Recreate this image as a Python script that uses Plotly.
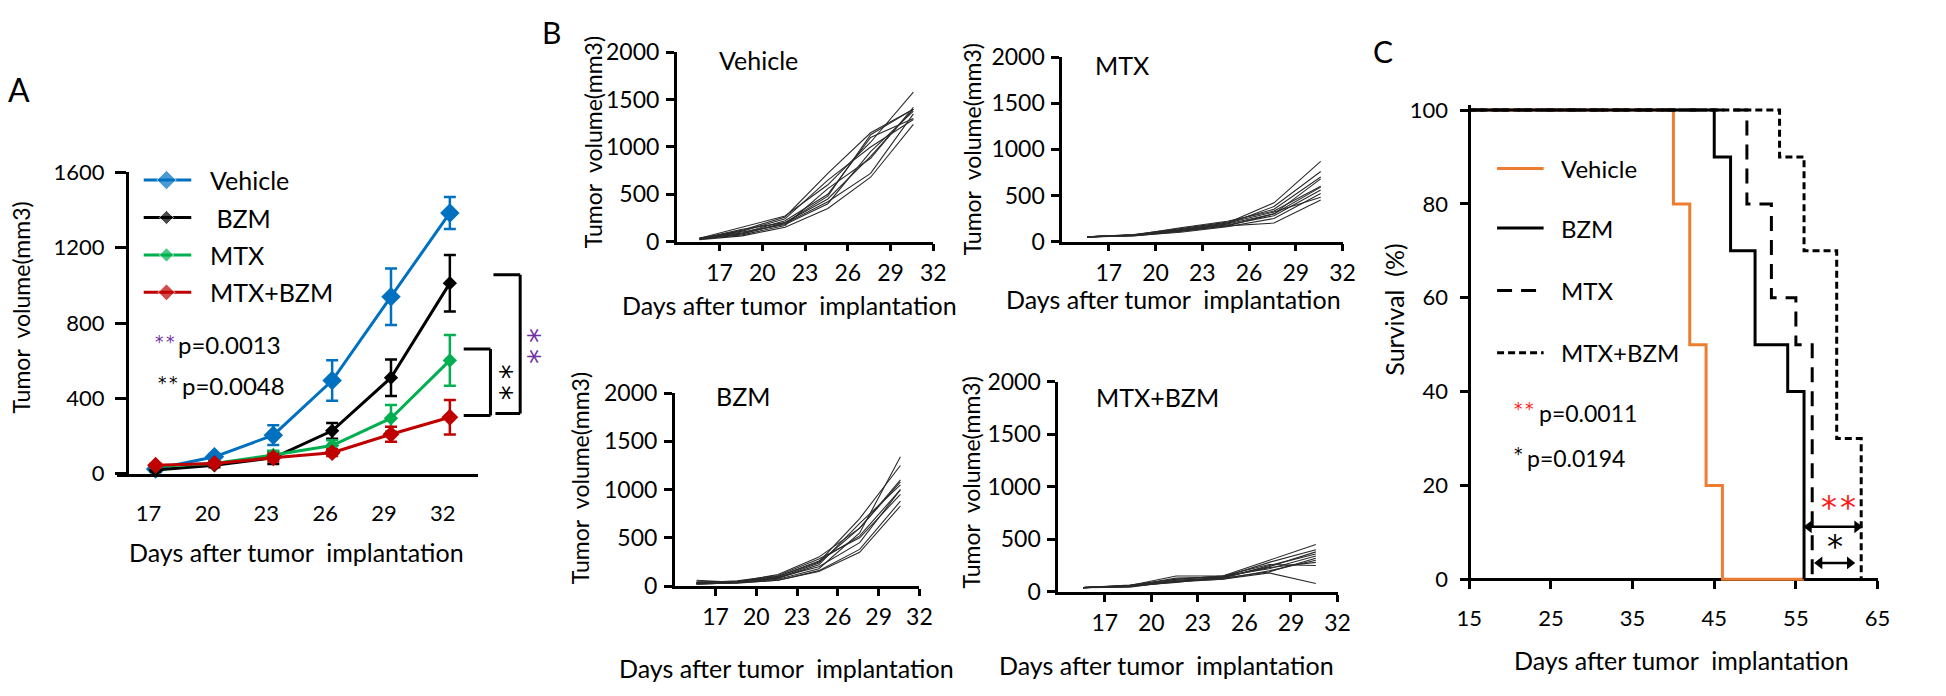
import plotly.graph_objects as go

W, H = 1946, 696
FONT = "Lato, 'Open Sans', sans-serif"
STARFONT = "DejaVu Sans"


def fx(p):
    return p / W


def fy(p):
    return 1 - p / H


# ---------------- Panel A data ----------------
days_a = [17, 20, 23, 26, 29, 32]
veh_mean = [25, 90, 205, 495, 940, 1385]
veh_err = [10, 15, 52, 108, 150, 85]
bzm_mean = [20, 45, 85, 228, 510, 1012]
bzm_err = [8, 10, 33, 42, 97, 150]
mtx_mean = [40, 55, 100, 150, 295, 602]
mtx_err = [8, 10, 22, 28, 70, 135]
combo_mean = [45, 55, 85, 112, 210, 300]
combo_err = [8, 10, 20, 18, 40, 92]
a_ticks = [0, 400, 800, 1200, 1600]

# ---------------- Panel B data (individual mice) ----------------
days_b = [15.6, 18.6, 21.6, 24.6, 27.6, 30.6]
b_ticks_x = [17, 20, 23, 26, 29, 32]
b_ticks_y = [0, 500, 1000, 1500, 2000]
vehicle_mice = [
    [30, 80, 200, 450, 900, 1400],
    [25, 120, 260, 720, 1150, 1400],
    [35, 150, 270, 600, 1050, 1580],
    [20, 60, 150, 350, 680, 1240],
    [40, 90, 220, 500, 1100, 1300],
    [30, 100, 180, 400, 950, 1380],
    [25, 70, 170, 560, 880, 1420],
    [35, 110, 240, 650, 1000, 1290],
    [30, 130, 200, 480, 1130, 1400],
    [28, 85, 190, 420, 720, 1350],
]
mtx_mice = [
    [50, 70, 130, 200, 420, 870],
    [50, 65, 120, 190, 380, 760],
    [50, 75, 140, 210, 350, 700],
    [50, 60, 110, 170, 300, 680],
    [50, 70, 150, 220, 330, 600],
    [50, 68, 120, 180, 280, 560],
    [50, 62, 100, 160, 250, 520],
    [50, 72, 130, 200, 320, 480],
    [50, 66, 115, 170, 200, 450],
    [50, 70, 125, 190, 300, 590],
]
bzm_mice = [
    [60, 40, 70, 180, 550, 1340],
    [20, 35, 100, 250, 700, 1250],
    [30, 45, 120, 300, 600, 1080],
    [40, 50, 90, 200, 450, 1000],
    [25, 30, 60, 150, 350, 830],
    [35, 55, 110, 280, 500, 950],
    [30, 40, 80, 220, 650, 1050],
    [20, 35, 60, 160, 380, 880],
    [45, 50, 100, 260, 520, 1000],
    [30, 45, 85, 240, 600, 1100],
]
combo_mice = [
    [40, 60, 150, 150, 300, 450],
    [40, 55, 130, 140, 280, 400],
    [40, 50, 110, 130, 250, 360],
    [40, 65, 120, 150, 220, 340],
    [40, 50, 100, 120, 200, 300],
    [40, 55, 90, 140, 230, 280],
    [40, 60, 120, 150, 260, 250],
    [40, 45, 100, 130, 190, 320],
    [40, 50, 95, 120, 180, 80],
    [40, 58, 110, 135, 240, 380],
]

# ---------------- Panel C data (Kaplan-Meier) ----------------
veh_t = [15, 40, 42, 44, 46, 56]
veh_s = [100, 80, 50, 20, 0, 0]
bzm_t = [15, 45, 47, 50, 54, 56]
bzm_s = [100, 90, 70, 50, 40, 0]
mtx_t = [15, 49, 52, 55, 57]
mtx_s = [100, 80, 60, 50, 0]
combo_t = [15, 53, 56, 60, 63]
combo_s = [100, 90, 70, 30, 0]
c_ticks_x = [15, 25, 35, 45, 55, 65]
c_ticks_y = [0, 20, 40, 60, 80, 100]

BLUE = "#0070c0"
GREEN = "#00b050"
RED = "#c00000"
PURPLE = "#7030a0"
ORANGE = "#ed7d31"
BRIGHT_RED = "#ff1a1a"

fig = go.Figure()

# ---- Panel A traces ----
for name, mean, err, color, msize in [
    ("Vehicle", veh_mean, veh_err, BLUE, 15),
    ("BZM", bzm_mean, bzm_err, "black", 11),
    ("MTX", mtx_mean, mtx_err, GREEN, 11),
    ("MTX+BZM", combo_mean, combo_err, RED, 13),
]:
    fig.add_trace(go.Scatter(
        x=days_a, y=mean, name=name, mode="lines+markers",
        line=dict(color=color, width=3),
        marker=dict(symbol="diamond", size=msize, color=color),
        error_y=dict(type="data", array=err, visible=True, color=color, thickness=2.5, width=6),
        cliponaxis=False, xaxis="x", yaxis="y", hoverinfo="skip",
    ))

# ---- Panel B traces ----
for mice, xa, ya in [
    (vehicle_mice, "x2", "y2"),
    (mtx_mice, "x3", "y3"),
    (bzm_mice, "x4", "y4"),
    (combo_mice, "x5", "y5"),
]:
    for m in mice:
        fig.add_trace(go.Scatter(
            x=days_b, y=m, mode="lines", line=dict(color="#2a2a2a", width=1.1),
            xaxis=xa, yaxis=ya, hoverinfo="skip",
        ))

# ---- Panel C traces ----
C_STYLES = {
    "Vehicle": dict(color=ORANGE, width=3, dash="solid"),
    "BZM": dict(color="black", width=3, dash="solid"),
    "MTX": dict(color="black", width=3, dash="15px,9px"),
    "MTX+BZM": dict(color="black", width=3, dash="7px,4px"),
}
for name, t, s in [
    ("Vehicle", veh_t, veh_s),
    ("MTX+BZM", combo_t, combo_s),
    ("MTX", mtx_t, mtx_s),
    ("BZM", bzm_t, bzm_s),
]:
    fig.add_trace(go.Scatter(
        x=t, y=s, mode="lines", line=dict(shape="hv", **C_STYLES[name]),
        xaxis="x6", yaxis="y6", hoverinfo="skip",
    ))

# Double-headed significance arrows in panel C (ends taken from the curves)
for x0, x1, yv in [
    (bzm_t[-1] + 0.6, combo_t[-1] - 0.5, 11.2),
    (mtx_t[-1] + 0.9, combo_t[-1] - 1.4, 3.5),
]:
    fig.add_trace(go.Scatter(
        x=[x0, x1], y=[yv, yv], mode="lines+markers",
        line=dict(color="black", width=2.5),
        marker=dict(symbol=["triangle-left", "triangle-right"], size=11, color="black"),
        cliponaxis=False, xaxis="x6", yaxis="y6", hoverinfo="skip",
    ))

# ---- Legends (drawn on a full-figure pixel overlay axis) ----
for i, (name, color, msize) in enumerate([
    ("Vehicle", BLUE, 15), ("BZM", "black", 11), ("MTX", GREEN, 11), ("MTX+BZM", RED, 13)
]):
    yy = 172 + 39 * i
    fig.add_trace(go.Scatter(
        x=[140, 163, 188], y=[yy, yy, yy], mode="lines+markers",
        line=dict(color=color, width=3),
        marker=dict(symbol="diamond", size=[0, msize, 0], color=color),
        xaxis="x7", yaxis="y7", hoverinfo="skip",
    ))
for i, name in enumerate(["Vehicle", "BZM", "MTX", "MTX+BZM"]):
    yy = [160, 222, 287, 352][i]
    fig.add_trace(go.Scatter(
        x=[1506, 1553], y=[yy, yy], mode="lines", line=C_STYLES[name],
        xaxis="x7", yaxis="y7", hoverinfo="skip",
    ))

annotations = []


def ann(text, x, y, size=22, color="black", xanchor="center", yanchor="middle", angle=0, family=FONT):
    annotations.append(dict(
        text=text, x=fx(x), y=fy(y), xref="paper", yref="paper", showarrow=False,
        font=dict(size=size, color=color, family=family), xanchor=xanchor, yanchor=yanchor,
        textangle=angle,
    ))


def star(x, y, size, color="black", text="*"):
    # asterisk glyph sits high in its box: shift down so that (x, y) is the glyph centre
    ann(text, x, y + 0.2 * size, size=size, color=color, family=STARFONT)


def vstars(x, y, size, color="black"):
    # two stars stacked vertically (rotated text); glyph offset moves to the right
    ann("*\u2009*", x - 0.2 * size, y, size=size, color=color, family=STARFONT, angle=90)


NB = "\u00a0"
DAYS = "Days after tumor" + NB + " implantation"
TV = "Tumor" + NB + " volume(mm3)"

# Panel letters
ann("A", 14, 78, size=32)
ann("B", 552, 18, size=30)
ann("C", 1391, 37, size=30)

# Panel A texts
for i, name in enumerate(["Vehicle", NB + "BZM", "MTX", "MTX+BZM"]):
    ann(name, 205, 172 + 39 * i, size=25, xanchor="left")
star(156, 337, 17, PURPLE)
star(167, 337, 17, PURPLE)
ann("p=0.0013", 173, 343, size=24, xanchor="left")
star(159, 380, 17)
star(170, 380, 17)
ann("p=0.0048", 177, 386, size=24, xanchor="left")
ann(TV, 16, 305, size=23, angle=-90)
ann(DAYS, 294, 560, size=25)
vstars(536, 345, 30, PURPLE)
vstars(507, 383, 30)

# Panel B texts
ann("Vehicle", 761, 47, size=25)
ann("MTX", 1127, 52, size=25)
ann("BZM", 745, 397, size=25)
ann("MTX+BZM", 1163, 398, size=25)
ann(TV, 593, 133, size=23, angle=-90)
ann(TV, 976, 140, size=23, angle=-90)
ann(TV, 580, 483, size=23, angle=-90)
ann(TV, 975, 487, size=23, angle=-90)
ann(DAYS, 792, 302, size=25)
ann(DAYS, 1179, 296, size=25)
ann(DAYS, 789, 680, size=25)
ann(DAYS, 1172, 677, size=25)

# Panel C texts
for i, name in enumerate(["Vehicle", "BZM", "MTX", "MTX+BZM"]):
    ann(name, 1569, [160, 222, 287, 352][i], size=24, xanchor="left")
star(1528, 407, 17, BRIGHT_RED)
star(1539, 407, 17, BRIGHT_RED)
ann("p=0.0011", 1546, 415, size=23, xanchor="left")
star(1528, 454, 17)
ann("p=0.0194", 1534, 462, size=23, xanchor="left")
ann("Survival" + NB + " (%)", 1402, 307, size=25, angle=-90)
ann(DAYS, 1692, 672, size=25)

# Stars over the arrows in panel C (data coordinates)
for xs, ys, col in [(59.0, 16.6, BRIGHT_RED), (61.4, 16.6, BRIGHT_RED), (59.8, 8.4, "black")]:
    annotations.append(dict(
        x=xs, y=ys, xref="x6", yref="y6", text="*", showarrow=False, yshift=-6,
        font=dict(size=32, color=col, family=STARFONT),
    ))

# Brackets in panel A (y from data values)
shapes = []


def seg(x0, y0, x1, y1):
    shapes.append(dict(type="line", xref="paper", yref="y", x0=fx(x0), x1=fx(x1), y0=y0, y1=y1,
                       line=dict(color="black", width=3)))


big_top = bzm_mean[-1] + 45
big_bot = combo_mean[-1] + 20
seg(493, big_top, 520, big_top)
seg(520, big_top, 520, big_bot)
seg(495, big_bot, 520, big_bot)
sm_top = mtx_mean[-1] + 60
sm_bot = combo_mean[-1] + 10
seg(463, sm_top, 490, sm_top)
seg(490, sm_top, 490, sm_bot)
seg(463, sm_bot, 490, sm_bot)

# ---------------- Axes ----------------
axis_common = dict(showgrid=False, zeroline=False, linecolor="black", tickcolor="black",
                   tickfont=dict(family=FONT, size=22, color="black"))


def bx(x0, x1, anchor):
    return dict(axis_common, domain=[fx(x0), fx(x1)], range=[14, 32], tickvals=b_ticks_x,
                ticks="outside", ticklen=7, tickwidth=2.5, showline=True, linewidth=2.5,
                anchor=anchor, ticklabelstandoff=2, tickfont=dict(family=FONT, size=23, color="black"))


def by(y0, y1, anchor):
    return dict(axis_common, domain=[fy(y1), fy(y0)], range=[0, 2000], tickvals=b_ticks_y,
                ticks="outside", ticklen=8, tickwidth=2.5, showline=True, linewidth=2.5,
                anchor=anchor, ticklabelstandoff=2, tickfont=dict(family=FONT, size=23, color="black"))


# Panel A: 17 at 152px, 19.8 px/day
a_x0, a_x1 = 113, 477
a_r0 = 17 - (152 - a_x0) / 19.8
a_r1 = 17 + (a_x1 - 152) / 19.8

# Panel C: 15 at 1478px ; 100 at 99px, 0 at 588px
c_x0, c_x1 = 1470, 1890
c_r0 = 15 - (1478 - c_x0) / ((1890 - 1478) / 50)
c_ppu = (588 - 99) / 100

layout = dict(
    width=W, height=H, margin=dict(l=0, r=0, t=0, b=0),
    paper_bgcolor="white", plot_bgcolor="rgba(0,0,0,0)", showlegend=False,
    font=dict(family=FONT, size=22, color="black"),
    xaxis=dict(axis_common, domain=[fx(a_x0), fx(a_x1)], range=[a_r0, a_r1], tickvals=days_a,
               ticks="", showline=True, linewidth=3, anchor="y", ticklabelstandoff=18,
               ticklabelshift=-7),
    yaxis=dict(axis_common, domain=[fy(478), fy(164)], range=[0, 1600], tickvals=a_ticks,
               ticks="outside", ticklen=11, tickwidth=3, showline=True, linewidth=3,
               anchor="free", position=fx(123), ticklabelstandoff=6),
    xaxis2=bx(678, 937, "y2"), yaxis2=by(39, 236, "x2"),
    xaxis3=bx(1067, 1350, "y3"), yaxis3=by(44, 236, "x3"),
    xaxis4=bx(676, 923, "y4"), yaxis4=by(394, 595, "x4"),
    xaxis5=bx(1063, 1345, "y5"), yaxis5=by(382, 601, "x5"),
    xaxis6=dict(axis_common, domain=[fx(c_x0), fx(c_x1)], range=[c_r0, 65], tickvals=c_ticks_x,
                ticks="outside", ticklen=8, tickwidth=3, showline=True, linewidth=3,
                anchor="free", position=fy(588), layer="below traces", ticklabelstandoff=10),
    yaxis6=dict(axis_common, domain=[fy(588 + c_ppu), fy(99 - c_ppu)], range=[-1, 101],
                tickvals=c_ticks_y, ticks="outside", ticklen=8, tickwidth=3, showline=True,
                linewidth=3, anchor="free", position=fx(1478), layer="below traces",
                ticklabelstandoff=8),
    xaxis7=dict(domain=[0, 1], range=[0, W], visible=False, fixedrange=True),
    yaxis7=dict(domain=[0, 1], range=[H, 0], visible=False, fixedrange=True, anchor="x7"),
    annotations=annotations,
    shapes=shapes,
)
fig.update_layout(layout)

fig.write_html(
    "out.html",
    config={"displayModeBar": False},
    post_script="document.body.style.margin='0';document.body.style.overflow='hidden';",
)
